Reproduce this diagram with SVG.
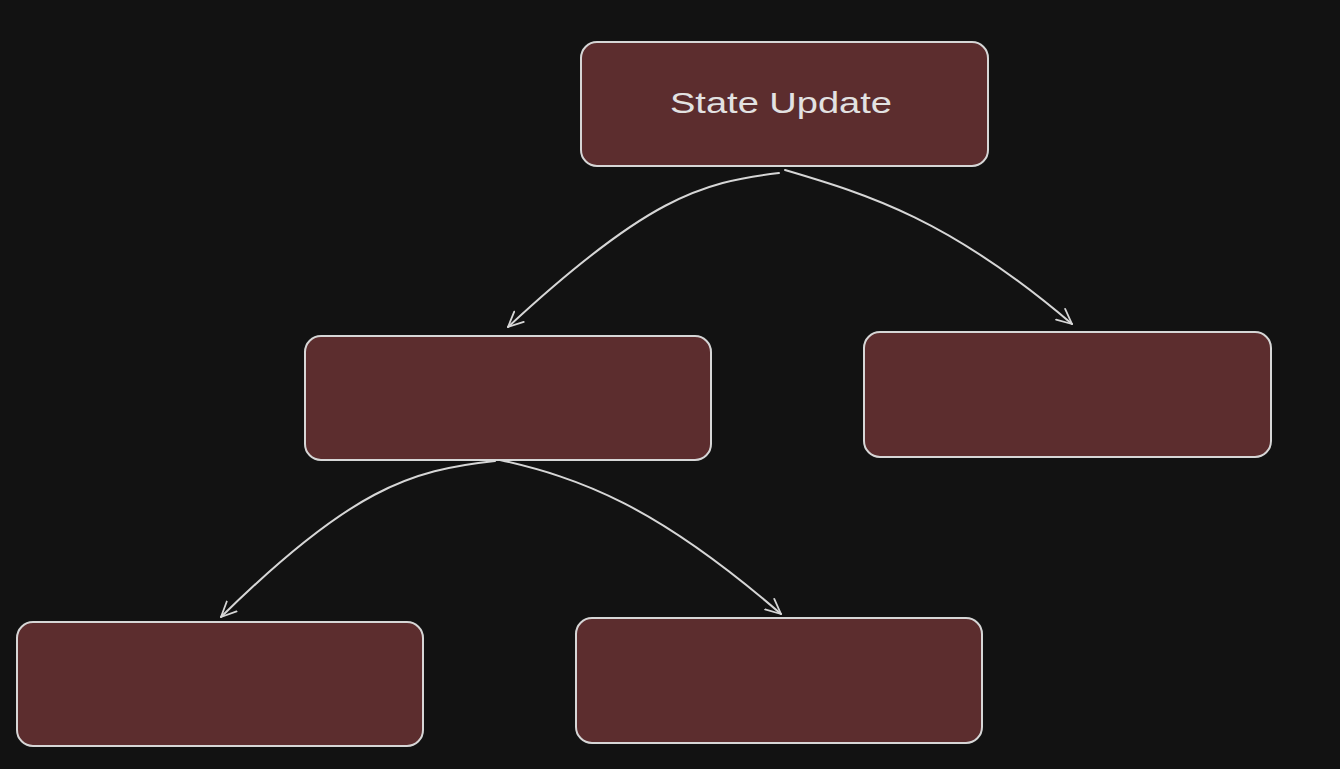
<svg xmlns="http://www.w3.org/2000/svg" width="1340" height="769" viewBox="0 0 1340 769">
<style>
.node rect{fill:#5c2d2e;stroke:#d6d6d6;stroke-width:2}
.lbl{font-family:"Liberation Sans","Noto Sans",sans-serif;font-size:29px;fill:#e2e2e2;text-anchor:middle}
.conn path{fill:none;stroke:#d6d6d6;stroke-width:2;stroke-linecap:round}
</style>
<defs>
<marker id="arr" viewBox="-16 -9 20 18" refX="0" refY="0" markerWidth="20" markerHeight="18" markerUnits="userSpaceOnUse" orient="auto">
<path d="M-15,-7 L0,0 L-15,7" fill="none" stroke="#d6d6d6" stroke-width="1.8" stroke-linecap="round" stroke-linejoin="round"/>
</marker>
</defs>
<rect width="1340" height="769" fill="#121212"/>
<g id="conns" class="conn">
<path d="M779,173 C700,182 645,200 508,327" marker-end="url(#arr)"/>
<path d="M785,170 C870,195 950,220 1072,324" marker-end="url(#arr)"/>
<path d="M495,461 C410,470 350,490 221,617" marker-end="url(#arr)"/>
<path d="M500,460 C580,478 655,505 781,614" marker-end="url(#arr)"/>
</g>
<g id="n_state" class="node">
<rect x="581" y="42" width="407" height="124" rx="16"/>
<text class="lbl" x="781" y="113" textLength="222" lengthAdjust="spacingAndGlyphs">State Update</text>
</g>
<g id="n_midleft" class="node"><rect x="305" y="336" width="406" height="124" rx="16"/></g>
<g id="n_midright" class="node"><rect x="864" y="332" width="407" height="125" rx="16"/></g>
<g id="n_botleft" class="node"><rect x="17" y="622" width="406" height="124" rx="16"/></g>
<g id="n_botright" class="node"><rect x="576" y="618" width="406" height="125" rx="16"/></g>
</svg>
